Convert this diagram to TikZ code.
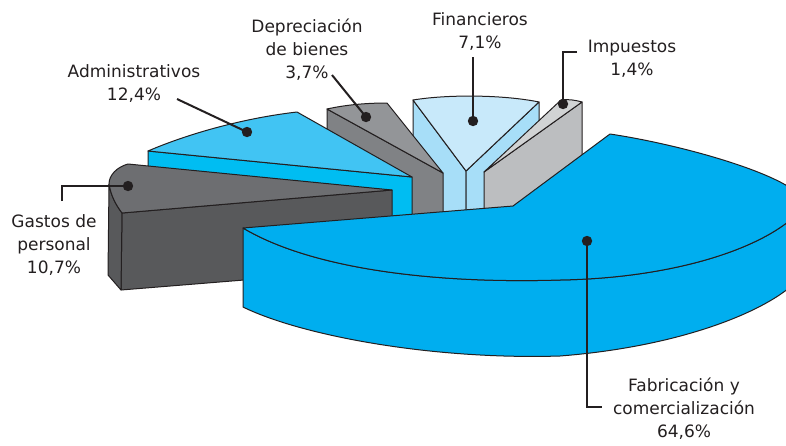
\documentclass[tikz,border=0pt]{standalone}
\usepackage{fontspec}
\setmainfont{DejaVu Sans}
\definecolor{bigblue}{HTML}{00AEEF}
\definecolor{admtop}{HTML}{41C4F3}
\definecolor{admside}{HTML}{00BDF2}
\definecolor{gastop}{HTML}{6D6E71}
\definecolor{gasside}{HTML}{58595B}
\definecolor{deptop}{HTML}{939598}
\definecolor{depside}{HTML}{808285}
\definecolor{fintop}{HTML}{C8E9FA}
\definecolor{finside}{HTML}{A7DEF8}
\definecolor{imptop}{HTML}{D1D3D4}
\definecolor{impside}{HTML}{BCBEC0}
\definecolor{inkline}{HTML}{231F20}

\begin{document}
\begin{tikzpicture}[x=1pt, y=-1pt,
  every node/.style={font=\fontsize{17}{23}\selectfont, text=inkline},
  face/.style={draw=inkline, line width=1pt, line join=round},
  lbl/.style={align=center, inner sep=0pt, anchor=base},
  leader/.style={draw=inkline, line width=2pt},
  leaderdot/.style={fill=inkline},
]
\useasboundingbox (0,0) rectangle (786,445);
\clip (0,0) rectangle (786,445);

% FINANCIEROS — back wedge
\filldraw[face, fill=finside] (413,100) -- (466,171) -- (466,240) -- (413,240) -- cycle;
\filldraw[face, fill=finside] (539,102) -- (466,171) -- (466,240) -- (539,240) -- cycle;
\filldraw[face, fill=fintop] (413,100) .. controls (450,94) and (505,95) .. (539,102) -- (466,171) -- cycle;

% IMPUESTOS
\filldraw[face, fill=impside] (582,102) -- (484,172) -- (484,260) -- (582,260) -- cycle;
\filldraw[face, fill=imptop] (561,100) .. controls (568,99) and (575,100) .. (582,102) -- (484,172) -- cycle;

% DEPRECIACION
\filldraw[face, fill=depside] (327,109) -- (443,173) -- (443,240) -- (327,240) -- cycle;
\filldraw[face, fill=deptop] (327,109) .. controls (345,105) and (365,103) .. (387,103) -- (443,173) -- cycle;

% ADMINISTRATIVOS
\filldraw[face, fill=admside] (148,151) -- (412,177) -- (412,240) -- (148,240) -- cycle;
\filldraw[face, fill=admtop] (148,151) .. controls (190,133) and (245,118) .. (297,112) -- (412,177) -- cycle;

% GASTOS DE PERSONAL
\filldraw[face, fill=gasside] (122,213) -- (392,190) -- (392,268) -- (121,290) -- cycle;
\filldraw[face, fill=gasside] (109,184) .. controls (111,196) and (116,205) .. (122,213) -- (121,290) -- (108,275) -- cycle;
\filldraw[face, fill=gastop] (392,190) -- (128,164) .. controls (117,167) and (109,175) .. (109,184)
  .. controls (111,196) and (116,205) .. (122,213) -- cycle;

% FABRICACION — big slice, side then top
\filldraw[face, fill=bigblue] (243,228) .. controls (310,268) and (430,284) .. (560,280)
  .. controls (680,278) and (775,245) .. (805,205) -- (805,270)
  .. controls (790,300) and (700,345) .. (560,356)
  .. controls (430,360) and (300,335) .. (243,307) -- cycle;
\filldraw[face, fill=bigblue] (243,228) -- (513,206) -- (610,134)
  .. controls (690,146) and (805,180) .. (805,205)
  .. controls (775,245) and (680,278) .. (560,280)
  .. controls (430,284) and (310,268) .. (243,228) -- cycle;

% LEADERS
\coordinate (dAdm) at (247,132);
\coordinate (eAdm) at (177,99);
\coordinate (dDep) at (366,117);
\coordinate (eDep) at (332,75);
\coordinate (dFin) at (473,121);
\coordinate (eFin) at (473,57);
\coordinate (dImp) at (563,104);
\coordinate (eImp) at (577,52);
\coordinate (dGas) at (128,186);
\coordinate (eGas) at (62,201);
\coordinate (dFab) at (587,241);
\coordinate (eFab) at (602,407);
\draw[leader] (eAdm) -- (dAdm);
\draw[leader] (eDep) -- (dDep);
\draw[leader] (eFin) -- (dFin);
\draw[leader] (eImp) -| (dImp);
\draw[leader] (eGas) |- (dGas);
\draw[leader] (dFab) |- (eFab);
\foreach \d in {dAdm,dDep,dFin,dImp,dGas,dFab}
  \fill[leaderdot] (\d) circle (5.2pt);

% LABELS — base anchor sits on the last line
\node[lbl] (lAdm) at (134,100) {Administrativos\\12,4\%};
\node[lbl] (lDep) at (307,78) {Depreciación\\de bienes\\3,7\%};
\node[lbl] (lFin) at (480,48) {Financieros\\7,1\%};
\node[lbl] (lImp) at (632,75) {Impuestos\\1,4\%};
\node[lbl] (lGas) at (54,273) {Gastos de\\personal\\10,7\%};
\node[lbl] (lFab) at (684,437) {Fabricación y\\comercialización\\64,6\%};

\end{tikzpicture}
\end{document}
